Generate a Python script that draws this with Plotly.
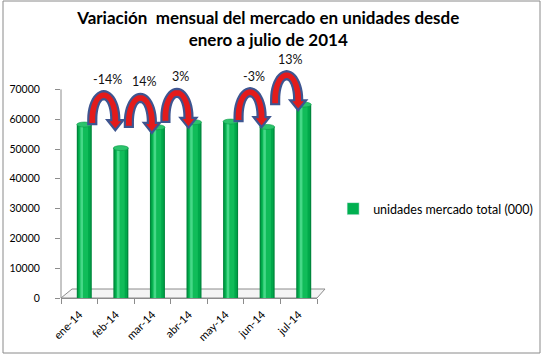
import math
import plotly.graph_objects as go

# ---- data ----
months = ["ene-14", "feb-14", "mar-14", "abr-14", "may-14", "jun-14", "jul-14"]
units = [58200, 50300, 57300, 59000, 59200, 57400, 64900]
variation_labels = ["-14%", "14%", "3%", "", "-3%", "13%"]  # between consecutive months
series_name = "unidades mercado total (000)"
title_text = "Variación  mensual del mercado en unidades desde<br>enero a julio de 2014"
y_ticks = [0, 10000, 20000, 30000, 40000, 50000, 60000, 70000]

FONT = "Lato, 'Liberation Sans', Arial, sans-serif"

# plot area: 256 x 298 px, y range 0..100000 (axis drawn only to 70000)
Y_MAX = 100000
PX_X = 7.0 / 256.0
PX_Y = Y_MAX / 298.0

xs = list(range(len(months)))
fig = go.Figure()

# cylinder-like bars via layered bars
bw = 0.41
boff = -0.068
layers = [
    (0.0, bw, "#00873c"),
    (0.035, bw - 0.07, "#00a84a"),
    (0.07, bw - 0.17, "#10bc59"),
    (0.10, 0.07, "#45d887"),
]
for k, (dx, w, col) in enumerate(layers):
    fig.add_trace(go.Bar(
        x=xs, y=units, width=w, offset=boff + dx,
        marker=dict(color=col, line=dict(width=0)),
        name=series_name, showlegend=False, hoverinfo="skip" if k else None,
    ))
# legend entry
fig.add_trace(go.Bar(
    x=[None], y=[None], name=series_name,
    marker=dict(color="#00b050"), showlegend=True,
))

shapes = []
# y axis line up to the top tick
shapes.append(dict(type="line", xref="paper", yref="y", x0=0, x1=0, y0=0, y1=y_ticks[-1],
                   line=dict(color="#8c8c8c", width=1), layer="below"))

# cylinder caps
for i, v in enumerate(units):
    shapes.append(dict(
        type="circle", xref="x", yref="y",
        x0=i + boff, x1=i + boff + bw,
        y0=v - 2.5 * PX_Y, y1=v + 2.5 * PX_Y,
        fillcolor="#2cc46c", line=dict(color="#0a9a48", width=0.6), layer="above",
    ))

# curved arrows + labels
annotations = []
for i, lab in enumerate(variation_labels):
    if not lab:
        continue
    cx = i + 0.5 + 0.17
    base = max(units[i], units[i + 1]) + 1800
    a_o, a_i, b_o, b_i = 15.5 * PX_X, 7.5 * PX_X, 28 * PX_Y, 20 * PX_Y
    pts = []
    pts.append((cx - a_o, base - 5 * PX_Y))
    n = 24
    for j in range(n + 1):
        t = math.pi - math.pi * j / n
        pts.append((cx + a_o * math.cos(t), base + b_o * math.sin(t)))
    pts.append((cx + a_o, base - 1 * PX_Y))
    pts.append((cx + a_o + 4 * PX_X, base - 1 * PX_Y))
    pts.append((cx + (a_o + a_i) / 2, base - 11 * PX_Y))
    pts.append((cx + a_i - 4 * PX_X, base - 1 * PX_Y))
    pts.append((cx + a_i, base - 1 * PX_Y))
    for j in range(n + 1):
        t = math.pi * j / n
        pts.append((cx + a_i * math.cos(t), base + b_i * math.sin(t)))
    pts.append((cx - a_i, base - 5 * PX_Y))
    path = "M " + " L ".join(f"{x:.5f},{y:.2f}" for x, y in pts) + " Z"
    shapes.append(dict(
        type="path", xref="x", yref="y", path=path,
        fillcolor="#e31b1b", line=dict(color="#3e5590", width=2.2), layer="above",
    ))
    annotations.append(dict(
        x=cx + 0.1, y=base + b_o + 12 * PX_Y, xref="x", yref="y",
        text=lab, showarrow=False, font=dict(family=FONT, size=12.5, color="#111"),
    ))

# 3D floor
fx, fy = 1.0 / 256.0, 1.0 / 298.0
shapes.append(dict(
    type="path", xref="paper", yref="paper", layer="below",
    path=f"M 0,0 L 1,0 L {1 + 8 * fx},{9 * fy} L {11 * fx},{9 * fy} Z",
    fillcolor="#f4f4f4", line=dict(color="#8c8c8c", width=1),
))
# chart border
shapes.append(dict(
    type="rect", xref="paper", yref="paper",
    x0=(3 - 61) * fx, x1=(540 - 61) * fx, y0=(298 - 353) * fy, y1=(298 - 1) * fy,
    line=dict(color="#8a8a8a", width=1), fillcolor="rgba(0,0,0,0)", layer="below",
))

fig.update_layout(
    width=543, height=362,
    margin=dict(l=61, r=226, t=0, b=64),
    paper_bgcolor="white", plot_bgcolor="white",
    barmode="overlay",
    title=dict(text=title_text, x=0.494, xanchor="center", y=0.933, yanchor="top",
               font=dict(family=FONT, size=17, color="black", weight="bold")),
    font=dict(family=FONT, color="black"),
    showlegend=True,
    legend=dict(x=1.063, y=(298 - 209) / 298.0, xanchor="left", yanchor="middle",
                font=dict(family=FONT, size=12.5, color="black"),
                itemwidth=30, bgcolor="rgba(0,0,0,0)"),
    shapes=shapes,
    annotations=annotations,
)
fig.update_xaxes(
    range=[-0.5, 6.5], tickvals=xs, ticktext=months, tickangle=-45,
    ticks="", showline=True, linecolor="#8c8c8c", linewidth=1,
    showgrid=False, zeroline=False, tickfont=dict(family=FONT, size=11),
    ticklabelstandoff=5,
    minor=dict(tickvals=[i - 0.5 for i in range(len(months) + 1)], ticks="outside",
               ticklen=5, tickcolor="#8c8c8c", showgrid=False),
)
fig.update_yaxes(
    range=[0, Y_MAX], tickvals=y_ticks, ticktext=[str(t) for t in y_ticks],
    ticks="outside", ticklen=5, tickcolor="#8c8c8c",
    showline=False, showgrid=False, zeroline=False, tickfont=dict(family=FONT, size=10.5),
    ticklabelstandoff=13,
)

fig.write_html("out.html", post_script="document.body.style.margin='0';",
               config={"displayModeBar": False})
